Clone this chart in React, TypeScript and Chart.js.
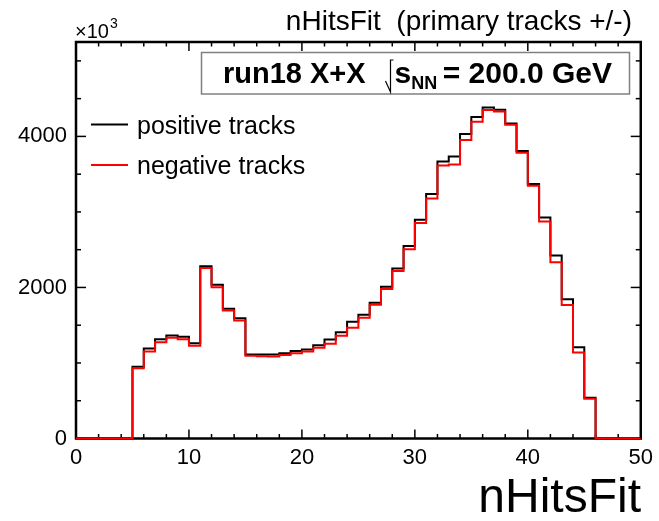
import { useEffect, useRef } from "react";
import { Chart, registerables } from "chart.js";

Chart.register(...registerables);

// nHitsFit histogram, bin low edges (bin width 1)
const binLow: number[] = [
  0, 1, 2, 3, 4, 5, 6, 7, 8, 9, 10, 11, 12, 13, 14, 15, 16, 17, 18, 19, 20, 21, 22, 23, 24,
  25, 26, 27, 28, 29, 30, 31, 32, 33, 34, 35, 36, 37, 38, 39, 40, 41, 42, 43, 44, 45, 46, 47, 48, 49,
];
const binWidth = 1;

// entries per bin, in units of 10^3
const positiveTracks: number[] = [
  0, 0, 0, 0, 0, 950, 1192, 1315, 1364, 1347, 1262, 2282, 2036, 1717, 1593, 1113, 1113, 1113,
  1130, 1157, 1179, 1236, 1311, 1408, 1545, 1638, 1797, 2009, 2250, 2550, 2896, 3236, 3669,
  3735, 4031, 4256, 4384, 4354, 4172, 3806, 3369, 2927, 2424, 1845, 1209, 539, 0, 0, 0, 0,
];
const negativeTracks: number[] = [
  0, 0, 0, 0, 0, 930, 1152, 1276, 1333, 1315, 1227, 2256, 2004, 1695, 1563, 1095, 1090, 1085,
  1104, 1130, 1152, 1201, 1254, 1360, 1466, 1598, 1771, 1978, 2218, 2507, 2852, 3179, 3616,
  3629, 3951, 4194, 4349, 4331, 4155, 3784, 3347, 2874, 2335, 1766, 1139, 526, 0, 0, 0, 0,
];

const xTickLabels: number[] = [0, 10, 20, 30, 40, 50];
const yTickLabels: number[] = [0, 2000, 4000];

const FONT = '"Liberation Sans", Arial, Helvetica, sans-serif';

// histogram outline: one point per bin low edge plus the last bin's upper edge
function histPoints(vals: number[]) {
  const pts = binLow.map((x, i) => ({ x, y: vals[i] }));
  const last = binLow.length - 1;
  pts.push({ x: binLow[last] + binWidth, y: vals[last] });
  return pts;
}

const frameAndText = {
  id: "frameAndText",
  beforeDatasetsDraw(chart: any) {
    const { ctx, chartArea: a, scales } = chart;
    const sx = scales.x;
    const sy = scales.y;
    ctx.save();
    ctx.strokeStyle = "#000";
    ctx.lineWidth = 1.5;
    const seg = (x1: number, y1: number, x2: number, y2: number) => {
      ctx.beginPath();
      ctx.moveTo(x1, y1);
      ctx.lineTo(x2, y2);
      ctx.stroke();
    };
    // x-axis ticks (bottom and top)
    for (let v = sx.min; v <= sx.max; v += 2) {
      const px = sx.getPixelForValue(v);
      const len = v % 10 === 0 ? 9 : 4.5;
      seg(px, a.bottom, px, a.bottom - len);
      seg(px, a.top, px, a.top + len);
    }
    // y-axis ticks (left and right)
    for (let v = 0; v <= sy.max; v += 500) {
      const py = sy.getPixelForValue(v);
      const len = v % 2000 === 0 ? 10 : 5;
      seg(a.left, py, a.left + len, py);
      seg(a.right, py, a.right - len, py);
    }
    ctx.lineWidth = 2.5;
    ctx.strokeRect(a.left, a.top, a.right - a.left, a.bottom - a.top);
    ctx.restore();
  },
  afterDraw(chart: any) {
    const { ctx } = chart;
    ctx.save();
    ctx.fillStyle = "#000";
    ctx.textBaseline = "alphabetic";

    // title
    ctx.font = `28px ${FONT}`;
    ctx.textAlign = "right";
    ctx.fillText("nHitsFit  (primary tracks +/-)", 632, 30);

    // axis multiplier
    ctx.textAlign = "left";
    ctx.font = `20px ${FONT}`;
    ctx.fillText("\u00d710", 75, 38);
    const w10 = ctx.measureText("\u00d710").width;
    ctx.font = `14px ${FONT}`;
    ctx.fillText("3", 75 + w10 + 1, 28);

    // x-axis title
    ctx.font = `48px ${FONT}`;
    ctx.textAlign = "right";
    ctx.fillText("nHitsFit", 641, 512);

    // legend
    ctx.textAlign = "left";
    ctx.font = `25px ${FONT}`;
    const legend = [
      { text: "positive tracks", color: "#000000", y: 124.5 },
      { text: "negative tracks", color: "#ff0000", y: 165 },
    ];
    for (const item of legend) {
      ctx.strokeStyle = item.color;
      ctx.lineWidth = 2;
      ctx.beginPath();
      ctx.moveTo(91, item.y);
      ctx.lineTo(128, item.y);
      ctx.stroke();
      ctx.fillStyle = "#000";
      ctx.fillText(item.text, 137, item.y + 9);
    }

    // run info box
    ctx.fillStyle = "#fff";
    ctx.fillRect(201.5, 52.5, 428, 41.5);
    ctx.strokeStyle = "#808080";
    ctx.lineWidth = 1.5;
    ctx.strokeRect(201.5, 52.5, 428, 41.5);

    ctx.fillStyle = "#000";
    ctx.font = `bold 29px ${FONT}`;
    const base = 83;
    ctx.fillText("run18 X+X", 223, base);
    // radical sign
    const rx = 390.5;
    ctx.strokeStyle = "#000";
    ctx.lineWidth = 1.2;
    ctx.beginPath();
    ctx.moveTo(rx - 5, base - 2);
    ctx.lineTo(rx, base + 9);
    ctx.lineTo(rx, 60);
    ctx.lineTo(rx + 3, 60);
    ctx.stroke();
    let x = rx + 4;
    ctx.font = `bold 30px ${FONT}`;
    ctx.fillText("s", x, base);
    x += ctx.measureText("s").width;
    ctx.font = `bold 18px ${FONT}`;
    ctx.fillText("NN", x, base + 6);
    ctx.font = `bold 30px ${FONT}`;
    ctx.textAlign = "right";
    ctx.fillText("= 200.0 GeV", 612, base);

    ctx.restore();
  },
};

export default function App() {
  const canvasRef = useRef<HTMLCanvasElement | null>(null);

  useEffect(() => {
    const canvas = canvasRef.current;
    if (!canvas) return;
    const chart = new Chart(canvas, {
      type: "line",
      data: {
        datasets: [
          {
            label: "positive tracks",
            data: histPoints(positiveTracks),
            borderColor: "#000000",
            borderWidth: 2,
            stepped: "before",
            pointRadius: 0,
            fill: false,
            order: 2,
            clip: 4,
          },
          {
            label: "negative tracks",
            data: histPoints(negativeTracks),
            borderColor: "#ff0000",
            borderWidth: 2,
            stepped: "before",
            pointRadius: 0,
            fill: false,
            order: 1,
            clip: 4,
          },
        ],
      },
      options: {
        responsive: false,
        animation: false,
        devicePixelRatio: 1,
        layout: { padding: { left: 0, top: 42, right: 16, bottom: 0 } },
        plugins: {
          legend: { display: false },
          tooltip: { enabled: false },
          title: { display: false },
        },
        scales: {
          x: {
            type: "linear",
            min: 0,
            max: 50,
            grid: { display: false, drawTicks: false },
            border: { display: false },
            afterBuildTicks: (s: any) => {
              s.ticks = xTickLabels.map((v) => ({ value: v }));
            },
            afterFit: (s: any) => {
              s.height = 82.5;
            },
            ticks: {
              color: "#000",
              font: { family: FONT, size: 22 },
              padding: 6,
              maxRotation: 0,
              autoSkip: false,
              callback: (v: any) => String(v),
            },
          },
          y: {
            type: "linear",
            min: 0,
            max: 5250,
            grid: { display: false, drawTicks: false },
            border: { display: false },
            afterBuildTicks: (s: any) => {
              s.ticks = yTickLabels.map((v) => ({ value: v }));
            },
            afterFit: (s: any) => {
              s.width = 76;
            },
            ticks: {
              color: "#000",
              font: { family: FONT, size: 22 },
              padding: 9,
              autoSkip: false,
              callback: (v: any) => String(v),
            },
          },
        },
      },
      plugins: [frameAndText],
    });
    return () => chart.destroy();
  }, []);

  return (
    <div style={{ position: "fixed", left: 0, top: 0, width: 659, height: 521, background: "#fff" }}>
      <canvas ref={canvasRef} width={659} height={521} />
    </div>
  );
}
